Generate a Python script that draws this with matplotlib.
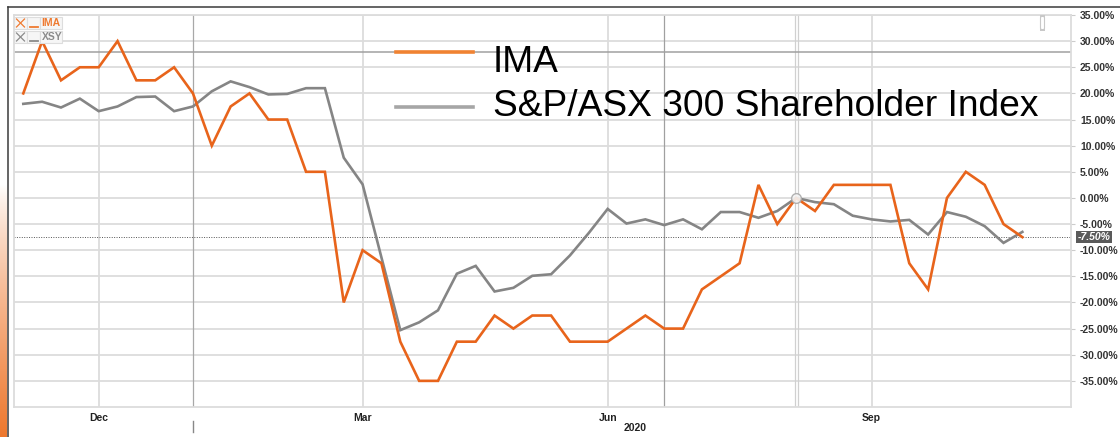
import numpy as np
import matplotlib
matplotlib.use("Agg")
import matplotlib.pyplot as plt
from matplotlib.lines import Line2D
from matplotlib.patches import Rectangle, FancyBboxPatch
from matplotlib.transforms import blended_transform_factory

plt.rcParams['font.family'] = ['Liberation Sans', 'DejaVu Sans']

# ---------------- data (weekly points) ----------------
ima = [20, 30, 22.5, 25, 25, 30, 22.5, 22.5, 25, 20,
       10, 17.5, 20, 15, 15, 5, 5, -20, -10, -12.5,
       -27.5, -35, -35, -27.5, -27.5, -22.5, -25, -22.5, -22.5, -27.5,
       -27.5, -27.5, -25, -22.5, -25, -25, -17.5, -15, -12.5, 2.5,
       -5, 0, -2.5, 2.5, 2.5, 2.5, 2.5, -12.5, -17.5, 0,
       5, 2.5, -5, -7.5]
xsy = [18.0, 18.4, 17.3, 19.0, 16.6, 17.5, 19.3, 19.4, 16.6, 17.5,
       20.4, 22.3, 21.2, 19.8, 19.9, 21.0, 21.0, 7.7, 2.6, -11.4,
       -25.3, -23.8, -21.5, -14.5, -13.0, -17.9, -17.2, -14.9, -14.6, -11.0,
       -6.7, -2.1, -4.9, -4.1, -5.2, -4.1, -6.0, -2.7, -2.7, -3.8,
       -2.5, 0.0, -0.8, -1.2, -3.4, -4.1, -4.5, -4.2, -7.0, -2.7,
       -3.6, -5.4, -8.6, -6.5]
month_labels = ["Dec", "Mar", "Jun", "Sep"]
month_idx = [4, 18, 31, 45]
year_label = "2020"
ytick_vals = [35, 30, 25, 20, 15, 10, 5, 0, -5, -10, -15, -20, -25, -30, -35]
ytick_labels = ["%.2f%%" % v for v in ytick_vals]
legend_names = ["IMA", "S&P/ASX 300 Shareholder Index"]
mini_legend = ["IMA", "XSY"]
last_value_label = "-7.50%"
last_value = -7.5

W, H = 1120, 437
fig = plt.figure(figsize=(W / 100, H / 100), dpi=100)
fig.patch.set_facecolor("white")

def fx(x):
    return x / W

def fy(y):
    return 1 - y / H

# plot area
L, R, T, B = 14, 1071, 15, 407
ax = fig.add_axes([fx(L), fy(B), (R - L) / W, (B - T) / H])
x = np.arange(len(ima))
ax.set_xlim(-0.493, 55.58)
ax.set_ylim(-40, 35)

ORANGE = "#E8641B"
GRAY = "#858585"
GRID = "#DCDCDC"

for v in ytick_vals:
    ax.axhline(v, color=GRID, lw=1.3, zorder=1)
for i in month_idx:
    ax.axvline(i, color=GRID, lw=1.3, zorder=1)
ax.axvline(9, color="#A8A8A8", lw=0.9, zorder=1)
ax.axvline(34, color="#A0A0A0", lw=0.9, zorder=1)
ax.axvline(40.92, color="#D0D0D0", lw=0.9, zorder=1)
ax.axvline(41.08, color="#D0D0D0", lw=0.9, zorder=1)
ax.axhline(28, color="#A0A0A0", lw=1.1, zorder=1)
ax.axhline(last_value, color="#555555", lw=0.7, ls=(0, (1, 1.5)), zorder=2)

ax.plot(x, xsy, color=GRAY, lw=1.9, zorder=3, solid_joinstyle="miter")
ax.plot(x, ima, color=ORANGE, lw=1.9, zorder=4, solid_joinstyle="miter")
ax.plot([41], [0], marker="o", ms=7, mfc="#F4F4F4", mec="#AAAAAA", mew=1.0,
        alpha=0.9, zorder=5)

for s in ["left", "right", "top", "bottom"]:
    ax.spines[s].set_color(GRID)
    ax.spines[s].set_linewidth(1.3)

ax.yaxis.tick_right()
ax.set_yticks(ytick_vals, ytick_labels)
ax.tick_params(axis="y", length=3, color="#CCCCCC", pad=3.5,
               labelsize=7.5, labelcolor="#333333")
for t in ax.get_yticklabels():
    t.set_fontweight("bold")
ax.set_xticks(month_idx, month_labels)
ax.tick_params(axis="x", length=0, pad=4, labelsize=7.5, labelcolor="#222222")
for t in ax.get_xticklabels():
    t.set_fontweight("bold")

# year label and small tick
fig.text(fx(635), fy(428), year_label, ha="center", va="center",
         fontsize=7.5, fontweight="bold", color="#222222")
fig.add_artist(Line2D([fx(193), fx(193)], [fy(421), fy(432)],
                      color="#888888", lw=1.0))

# last value tag
tr = blended_transform_factory(ax.transAxes, ax.transData)
ax.text(1.0062, last_value, last_value_label, transform=tr, ha="left",
        va="center", fontsize=7.5, fontweight="bold", fontstyle="italic",
        color="white", clip_on=False,
        bbox=dict(boxstyle="square,pad=0.12", fc="#5A5A5A", ec="none"))

# big overlay legend
fig.add_artist(Line2D([fx(396), fx(473)], [fy(51.7), fy(51.7)],
                      color="#F08232", lw=2.6))
fig.add_artist(Line2D([fx(396), fx(473)], [fy(106.7), fy(106.7)],
                      color="#A6A6A6", lw=2.6))
fig.text(fx(493), fy(72), legend_names[0], ha="left", va="baseline",
         fontsize=26.7, color="black")
fig.text(fx(493), fy(116), legend_names[1], ha="left", va="baseline",
         fontsize=26.7, color="black")

# mini legend top-left
def mini_row(y0, label, col):
    h = 12
    boxes = [(14, 13), (27, 13), (40, 22)]
    for bx, bw in boxes:
        fig.add_artist(Rectangle((fx(bx), fy(y0 + h)), bw / W, h / H,
                                 fc="#F6F6F6", ec="#DDDDDD", lw=0.8,
                                 transform=fig.transFigure))
    # thin X
    fig.add_artist(Line2D([fx(16.5), fx(24.5)], [fy(y0 + 2), fy(y0 + 10)],
                          color=col, lw=0.9))
    fig.add_artist(Line2D([fx(16.5), fx(24.5)], [fy(y0 + 10), fy(y0 + 2)],
                          color=col, lw=0.9))
    fig.add_artist(Line2D([fx(29.5), fx(37.5)], [fy(y0 + 9.5), fy(y0 + 9.5)],
                          color=col, lw=1.3))
    fig.text(fx(41.5), fy(y0 + h / 2 + 0.5), label, ha="left", va="center",
             fontsize=7.5, fontweight="bold", color=col)

mini_row(17, mini_legend[0], "#EF7A30")
mini_row(31, mini_legend[1], "#8A8A8A")

# small icon top right
fig.add_artist(FancyBboxPatch((fx(1040.5), fy(30)), 4 / W, 14 / H,
                              boxstyle="round,pad=0,rounding_size=0.004",
                              fc="white", ec="#C8C8C8", lw=0.8,
                              transform=fig.transFigure))

# outer frame lines
fig.add_artist(Line2D([fx(8), fx(1120)], [fy(7), fy(7)], color="#3A3A3A", lw=1.1))
fig.add_artist(Line2D([fx(8), fx(8)], [fy(7), fy(437)], color="#3A3A3A", lw=1.1))

# left orange gradient strip (white at top -> orange at bottom)
gax = fig.add_axes([0, 0, 7 / W, (437 - 185) / H])
grad = np.linspace(0, 1, 256).reshape(-1, 1)
c0 = np.array([1.0, 1.0, 1.0])
c1 = np.array([0.93, 0.47, 0.18])
w = grad[..., None] ** 0.8
img = c0[None, None, :] * (1 - w) + c1[None, None, :] * w
gax.imshow(img, aspect="auto", extent=[0, 1, 0, 1])
gax.set_axis_off()

fig.savefig("out.png", dpi=100, facecolor="white")
